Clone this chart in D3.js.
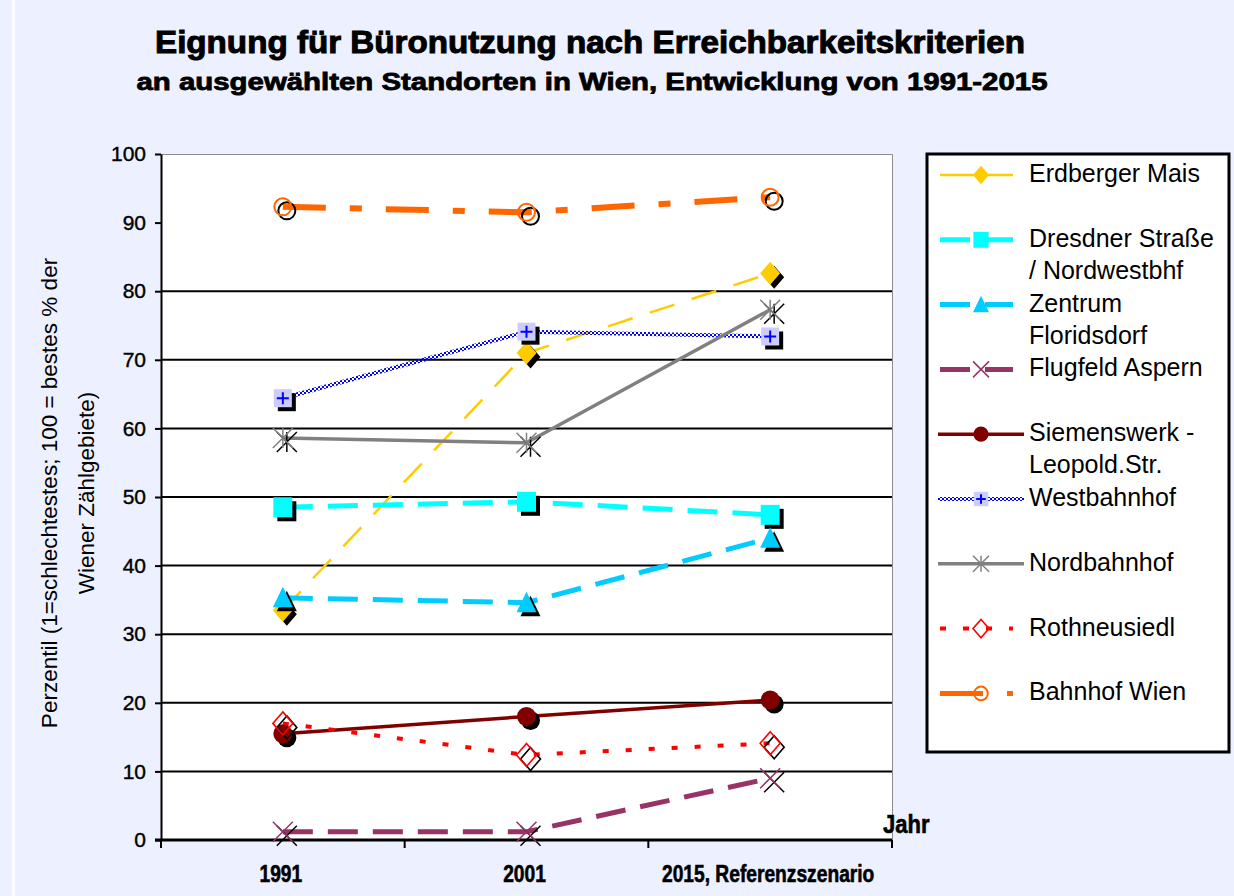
<!DOCTYPE html>
<html>
<head>
<meta charset="utf-8">
<script src="https://cdn.jsdelivr.net/npm/d3@7"></script>
<style>
  body { margin: 0; background: #edf0fe; }
  svg { display: block; font-family: "Liberation Sans", Arial, sans-serif; }
</style>
</head>
<body>
<script>
// categories and tick values
const years = ["1991", "2001", "2015, Referenzszenario"];
const yTicks = [0, 10, 20, 30, 40, 50, 60, 70, 80, 90, 100];
const gridValues = [10, 20, 30, 40, 50, 60, 70, 80];

// series values
const erdbergerMais = [33.5, 71, 82.6];
const dresdnerStrasse = [48.5, 49.3, 47.4];
const zentrumFloridsdorf = [35.3, 34.6, 44];
const flugfeldAspern = [1.2, 1.2, 9];
const siemenswerk = [15.5, 18, 20.4];
const westbahnhof = [64.4, 74.1, 73.4];
const nordbahnhof = [58.6, 57.9, 77.3];
const rothneusiedl = [17, 12.4, 14.1];
const bahnhofWien = [92.3, 91.5, 93.7];

const series = [
    {label: ["Erdberger Mais"], values: erdbergerMais, color: "#FFCC00", width: 2.5, dash: "26,18", marker: "diamond"},
    {label: ["Dresdner Straße", "/ Nordwestbhf"], values: dresdnerStrasse, color: "#00FFFF", width: 5, dash: "30,15", marker: "square"},
    {label: ["Zentrum", "Floridsdorf"], values: zentrumFloridsdorf, color: "#00CCFF", width: 5, dash: "30,15", marker: "triangle"},
    {label: ["Flugfeld Aspern"], values: flugfeldAspern, color: "#993366", width: 5, dash: "30,15", marker: "cross"},
    {label: ["Siemenswerk -", "Leopold.Str."], values: siemenswerk, color: "#800000", width: 3.5, dash: null, marker: "circle"},
    {label: ["Westbahnhof"], values: westbahnhof, color: "#0000FF", width: 4, dash: null, marker: "plusSquare", checker: true},
    {label: ["Nordbahnhof"], values: nordbahnhof, color: "#808080", width: 3.5, dash: null, marker: "asterisk"},
    {label: ["Rothneusiedl"], values: rothneusiedl, color: "#FF0000", width: 4, dash: "6,17", marker: "openDiamond"},
    {label: ["Bahnhof Wien"], values: bahnhofWien, color: "#FF6600", width: 6, dash: "43,24,12,24", marker: "openCircle"}
];

const W = 1234, H = 896;
const plot = {left: 161, right: 892, top: 154, bottom: 840};

const svg = d3.select("body").append("svg")
    .attr("width", W)
    .attr("height", H);

svg.append("rect").attr("width", W).attr("height", H).attr("fill", "#edf0fe");
svg.append("rect").attr("x", 12).attr("y", 0).attr("width", 3).attr("height", H).attr("fill", "#fafbff");

// checker pattern for the Westbahnhof line
const defs = svg.append("defs");
const pat = defs.append("pattern")
    .attr("id", "checker")
    .attr("patternUnits", "userSpaceOnUse")
    .attr("width", 4).attr("height", 4);
pat.append("rect").attr("x", 0).attr("y", 0).attr("width", 2).attr("height", 2).attr("fill", "#0000FF");
pat.append("rect").attr("x", 2).attr("y", 2).attr("width", 2).attr("height", 2).attr("fill", "#0000FF");

function fitText(sel, factor) {
    sel.each(function() {
        let len = this.getComputedTextLength();
        d3.select(this).attr("textLength", len * factor).attr("lengthAdjust", "spacingAndGlyphs");
    });
}

// title
svg.append("text")
    .attr("x", 590).attr("y", 53)
    .attr("text-anchor", "middle")
    .style("font-size", "32px").style("font-weight", "bold")
    .attr("stroke", "#000").attr("stroke-width", 1)
    .text("Eignung für Büronutzung nach Erreichbarkeitskriterien")
    .attr("textLength", 870).attr("lengthAdjust", "spacingAndGlyphs");

svg.append("text")
    .attr("x", 592).attr("y", 90)
    .attr("text-anchor", "middle")
    .style("font-size", "24px").style("font-weight", "bold")
    .attr("stroke", "#000").attr("stroke-width", 0.8)
    .text("an ausgewählten Standorten in Wien, Entwicklung von 1991-2015")
    .attr("textLength", 911).attr("lengthAdjust", "spacingAndGlyphs");

// scales
let x = d3.scaleBand()
    .domain(years)
    .range([plot.left, plot.right]);

let y = d3.scaleLinear()
    .domain([0, 100])
    .range([plot.bottom, plot.top]);

// plot area
svg.append("rect")
    .attr("x", plot.left).attr("y", plot.top)
    .attr("width", plot.right - plot.left).attr("height", plot.bottom - plot.top)
    .attr("fill", "#fff");

svg.append("path")
    .attr("d", "M" + plot.left + "," + (plot.top + 0.5) + "H" + (plot.right + 0.5) + "V" + plot.bottom)
    .attr("fill", "none").attr("stroke", "#8c8c8c").attr("stroke-width", 1);

// gridlines
svg.append("g")
    .selectAll("line")
    .data(gridValues)
    .enter()
    .append("line")
        .attr("x1", plot.left).attr("x2", plot.right)
        .attr("y1", d => y(d)).attr("y2", d => y(d))
        .attr("stroke", "#000").attr("stroke-width", 2);

// y axis
let yAxis = d3.axisLeft(y)
    .tickValues(yTicks)
    .tickSize(6)
    .tickSizeOuter(0)
    .tickPadding(9);

let gy = svg.append("g")
    .attr("transform", "translate(" + plot.left + ",0)")
    .call(yAxis);
gy.select(".domain").attr("stroke", "#000").attr("stroke-width", 2);
gy.selectAll(".tick line").attr("stroke", "#000").attr("stroke-width", 2);
gy.selectAll(".tick text")
    .attr("fill", "#000")
    .attr("stroke", "#000").attr("stroke-width", 0.4)
    .style("font-size", "21px")
    .style("font-family", "'Liberation Sans', Arial, sans-serif");

// x axis
let gx = svg.append("g")
    .attr("transform", "translate(0," + plot.bottom + ")");
gx.append("line")
    .attr("x1", plot.left - 6).attr("x2", plot.right)
    .attr("stroke", "#000").attr("stroke-width", 3);
let bounds = years.map(d => x(d)).concat([x.range()[1]]);
gx.selectAll(".bound")
    .data(bounds)
    .enter()
    .append("line")
        .attr("class", "bound")
        .attr("x1", d => d).attr("x2", d => d)
        .attr("y1", 0).attr("y2", 8)
        .attr("stroke", "#000").attr("stroke-width", 2);
gx.selectAll(".lbl")
    .data(years)
    .enter()
    .append("text")
        .attr("class", "lbl")
        .attr("x", d => x(d) + x.bandwidth() / 2 - 2)
        .attr("y", 42)
        .attr("text-anchor", "middle")
        .style("font-size", "24px").style("font-weight", "bold")
        .attr("stroke", "#000").attr("stroke-width", 0.6)
        .text(d => d)
        .call(fitText, 0.8);

svg.append("text")
    .attr("x", 883).attr("y", 833)
    .style("font-size", "25px").style("font-weight", "bold")
    .attr("stroke", "#000").attr("stroke-width", 0.6)
    .text("Jahr")
    .call(fitText, 0.88);

// y axis title
let yTitle = svg.append("text")
    .attr("transform", "translate(57,493) rotate(-90)")
    .attr("text-anchor", "middle")
    .style("font-size", "22.5px");
yTitle.append("tspan").attr("x", 0).attr("dy", 0)
    .text("Perzentil (1=schlechtestes; 100 = bestes % der");
yTitle.append("tspan").attr("x", 0).attr("dy", 37)
    .text("Wiener Zählgebiete)");

// marker shapes
function drawMarker(g, type, cx, cy, s, color, fillColor) {
    let m = g.append("g").attr("transform", "translate(" + cx + "," + cy + ")");
    let dia = "M0," + (-s * 1.15) + "L" + s + ",0L0," + (s * 1.15) + "L" + (-s) + ",0Z";
    if (type === "diamond") {
        m.append("path").attr("d", dia).attr("fill", color);
    } else if (type === "square") {
        m.append("rect").attr("x", -s * 0.95).attr("y", -s).attr("width", s * 1.9).attr("height", s * 2).attr("fill", color);
    } else if (type === "triangle") {
        m.append("path").attr("d", "M0," + (-s * 1.1) + "L" + s + "," + (s * 0.95) + "L" + (-s) + "," + (s * 0.95) + "Z").attr("fill", color);
    } else if (type === "cross") {
        m.append("path").attr("d", "M" + (-s) + "," + (-s) + "L" + s + "," + s + "M" + s + "," + (-s) + "L" + (-s) + "," + s)
            .attr("stroke", color).attr("stroke-width", 1.5).attr("fill", "none");
    } else if (type === "circle") {
        m.append("circle").attr("r", s * 0.95).attr("fill", color);
    } else if (type === "plusSquare") {
        m.append("rect").attr("x", -s * 0.9).attr("y", -s * 0.9).attr("width", s * 1.8).attr("height", s * 1.8)
            .attr("fill", fillColor === "#000" ? "#000" : "#CCCCFF");
        if (fillColor !== "#000") {
            m.append("path").attr("d", "M" + (-s * 0.6) + ",0H" + (s * 0.6) + "M0," + (-s * 0.6) + "V" + (s * 0.6))
                .attr("stroke", color).attr("stroke-width", 2);
        }
    } else if (type === "asterisk") {
        m.append("path").attr("d", "M" + (-s) + "," + (-s) + "L" + s + "," + s + "M" + s + "," + (-s) + "L" + (-s) + "," + s + "M0," + (-s) + "V" + s)
            .attr("stroke", color).attr("stroke-width", 1.5).attr("fill", "none");
    } else if (type === "openDiamond") {
        m.append("path").attr("d", dia).attr("stroke", color).attr("stroke-width", 1.6).attr("fill", "none");
    } else if (type === "openCircle") {
        m.append("circle").attr("r", s * 0.85).attr("stroke", color).attr("stroke-width", 2).attr("fill", "none");
    }
    return m;
}

// lines
let line = d3.line()
    .x((d, i) => x(years[i]) + x.bandwidth() / 2)
    .y(d => y(d));

let gLines = svg.append("g");
series.forEach(function(s) {
    gLines.append("path")
        .datum(s.values)
        .attr("d", line)
        .attr("fill", "none")
        .attr("stroke", s.checker ? "url(#checker)" : s.color)
        .attr("stroke-width", s.width)
        .attr("stroke-dasharray", s.dash);
});

// markers with shadow
let gMarks = svg.append("g");
series.forEach(function(s) {
    s.values.forEach(function(v, i) {
        let cx = x(years[i]) + x.bandwidth() / 2;
        let cy = y(v);
        drawMarker(gMarks, s.marker, cx + 4, cy + 4, 10, "#000", "#000");
        drawMarker(gMarks, s.marker, cx, cy, 10, s.color, null);
    });
});

// legend
const leg = {x: 927, y: 154, w: 302, h: 598};
let gLeg = svg.append("g");
gLeg.append("rect")
    .attr("x", leg.x).attr("y", leg.y)
    .attr("width", leg.w).attr("height", leg.h)
    .attr("fill", "#fff").attr("stroke", "#000").attr("stroke-width", 3);

series.forEach(function(s, i) {
    let ly = 175 + i * 64.8;
    let x1 = s.dash ? 940 : 938;
    let x2 = s.dash ? 1013 : 1024;
    gLeg.append("line")
        .attr("x1", x1).attr("x2", x2)
        .attr("y1", ly).attr("y2", ly)
        .attr("stroke", s.checker ? "url(#checker)" : s.color)
        .attr("stroke-width", Math.min(s.width, 5))
        .attr("stroke-dasharray", i === 0 ? null : s.dash);
    drawMarker(gLeg, s.marker, 981, ly, 8, s.color, null);
    let t = gLeg.append("text")
        .attr("x", 1029).attr("y", ly + 7)
        .style("font-size", "25px");
    s.label.forEach(function(l, j) {
        t.append("tspan").attr("x", 1029).attr("dy", j === 0 ? 0 : 32).text(l);
    });
});
</script>
</body>
</html>
